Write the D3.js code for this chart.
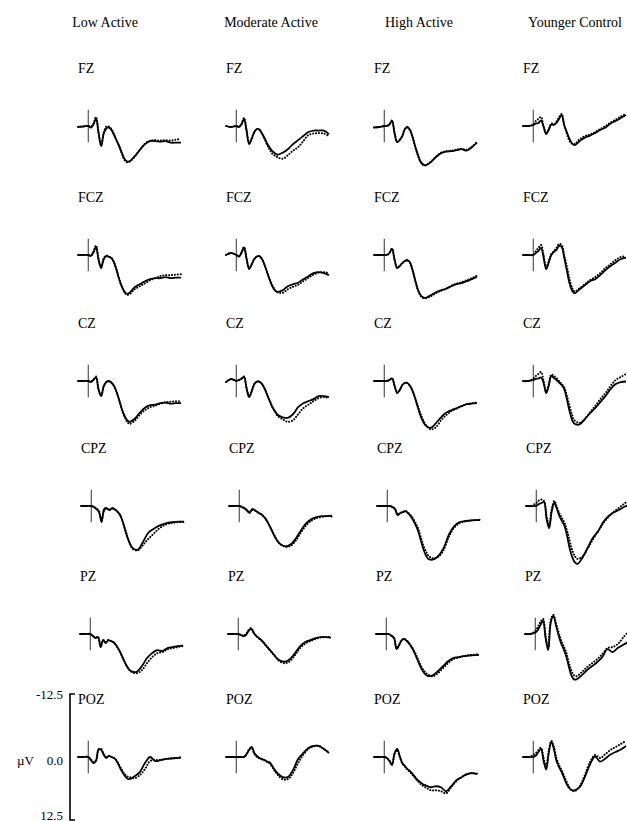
<!DOCTYPE html>
<html><head><meta charset="utf-8">
<script src="https://cdn.jsdelivr.net/npm/d3@7"></script>
<style>
body{margin:0;background:#fff}
svg{display:block}
text{font-family:"Liberation Serif","Times New Roman",serif;fill:#000}
</style>
</head><body><svg id="chart" width="627" height="821"></svg>
<script>
// Grand-average ERP waveforms (µV, negative up) by electrode and group.
// Series A = solid line, series B = dotted line.
const groups = ["Low Active", "Moderate Active", "High Active", "Younger Control"];
const electrodes = ["FZ", "FCZ", "CZ", "CPZ", "PZ", "POZ"];
const times = [-100,-50,0,25,50,75,100,125,150,175,200,225,250,275,300,325,350,375,400,450,500,550,600,650,700,750,800,850,900];
const scaleTicks = [-12.5, 0, 12.5];
const scaleTickLabels = ["-12.5", "0.0", "12.5"];
const scaleUnit = "µV";

const FZ_LOW_A = [0.2,0.1,0,0.3,-0.3,-1.5,1.5,4.0,1.5,0.5,0.3,0.8,1.8,2.9,4.0,5.3,6.5,7.0,7.0,6.0,4.8,3.6,3.0,3.0,3.1,3.0,3.3,3.3,3.3];
const FZ_LOW_B = [0.2,0.1,0,0.2,-0.5,-1.8,1.2,3.8,1.3,0.1,0.1,0.6,1.6,2.8,4.0,5.4,6.7,7.2,7.1,6.1,4.7,3.5,2.9,2.8,2.9,2.8,2.9,2.7,2.6];
const FZ_MOD_A = [0,0.2,0,0.2,-0.3,-1.4,1.0,3.6,2.5,1.2,0.6,0.7,1.5,2.4,3.5,4.3,5.0,5.4,5.7,5.3,4.6,3.6,2.8,2.0,1.2,0.9,0.9,0.9,1.6];
const FZ_MOD_B = [0,0.2,0,0.2,-0.4,-1.6,0.8,3.4,2.4,1.2,0.6,0.8,1.6,2.6,3.8,4.7,5.5,5.9,6.2,6.5,5.8,4.9,4.2,3.0,1.8,1.5,1.4,1.5,2.0];
const FZ_HIGH_A = [0.3,0.2,0,0,-0.3,-1.0,1.5,3.2,2.8,2.0,0.6,0.2,0.8,2.2,4.0,5.6,7.0,7.6,7.8,7.2,6.2,5.4,5.1,5.0,4.8,4.6,4.9,4.2,3.3];
const FZ_HIGH_B = [0.3,0.2,0,0,-0.3,-1.1,1.4,3.1,2.7,1.9,0.6,0.3,0.9,2.3,4.2,5.8,7.1,7.7,7.8,7.1,6.1,5.3,5.0,4.9,4.7,4.5,4.7,4.1,3.2];
const FZ_YC_A = [0,0,-0.2,-0.5,-0.6,-1.1,0.2,1.6,0.8,-0.3,-0.2,-0.6,-1.4,-2.2,-0.2,1.2,2.5,3.4,3.8,3.0,2.3,1.9,1.4,0.8,0.3,-0.5,-1.0,-1.6,-2.2];
const FZ_YC_B = [0,0,-0.3,-1.0,-1.4,-1.8,0,1.3,0.6,-0.5,-0.4,-0.9,-1.8,-2.4,-0.2,1.5,2.9,3.5,3.6,2.6,2.0,1.7,1.2,0.6,0.0,-0.7,-1.3,-1.9,-2.4];

const FCZ_LOW_A = [0,0,0,0.2,-0.5,-1.6,1.0,2.6,0.8,0.2,0.4,0.6,1.5,3.0,4.8,6.2,7.2,7.7,7.5,6.4,5.8,5.2,4.8,4.6,4.6,4.4,4.6,4.5,4.5];
const FCZ_LOW_B = [0,0,0,0.1,-0.7,-1.9,0.8,2.4,0.6,0.1,0.3,0.6,1.5,3.0,4.8,6.3,7.4,7.9,7.8,6.8,6.2,5.6,5.0,4.6,4.2,4.0,4.0,3.9,3.8];
const FCZ_MOD_A = [0,-0.4,0,0.3,-0.4,-1.5,0.8,2.8,1.8,0.8,0.3,0.2,0.8,2.0,3.5,5.0,6.2,7.0,7.3,7.0,6.2,5.8,5.5,4.8,4.2,3.6,3.4,3.6,4.0];
const FCZ_MOD_B = [0,-0.4,0,0.2,-0.5,-1.6,0.7,2.7,1.8,0.8,0.3,0.3,0.9,2.0,3.4,4.8,6.0,6.9,7.4,7.5,6.8,6.3,5.9,5.2,4.5,3.9,3.5,3.4,3.6];
const FCZ_HIGH_A = [0,0,0,0,-0.4,-1.2,1.0,2.6,2.2,1.6,1.2,1.0,1.5,3.0,5.0,6.8,7.9,8.4,8.5,8.0,7.4,7.0,6.7,6.2,5.8,5.6,5.2,4.8,4.3];
const FCZ_HIGH_B = [0,0,0,0,-0.4,-1.3,0.9,2.5,2.1,1.6,1.2,1.1,1.6,3.1,5.1,6.9,8.0,8.5,8.6,8.2,7.6,7.1,6.7,6.1,5.7,5.4,5.0,4.6,4.1];
const FCZ_YC_A = [0,0,0,-0.4,-0.8,-1.4,0.5,2.8,1.5,0,-0.6,-1.0,-1.8,-1.6,0.5,3.0,5.5,7.0,7.6,6.8,6.0,5.2,4.8,4.0,3.0,2.2,1.5,0.8,0.5];
const FCZ_YC_B = [0,0,0,-0.8,-1.4,-2.0,0,2.5,1.2,-0.2,-0.8,-1.4,-2.2,-2.0,0,2.2,4.6,6.4,7.2,6.6,5.8,5.0,4.4,3.6,2.6,1.8,1.0,0.4,0.3];

const CZ_LOW_A = [0,0,0,0.2,-0.2,-0.7,1.8,3.0,1.0,0.2,0,0.3,1.0,2.2,3.8,5.5,6.8,7.7,8.1,7.5,6.3,5.3,4.8,4.7,4.4,4.3,4.5,4.4,4.4];
const CZ_LOW_B = [0,0,0,0.1,-0.3,-0.9,1.6,2.9,1.0,0.2,0.1,0.4,1.0,2.2,3.8,5.6,7.0,8.0,8.5,7.9,6.7,5.8,5.2,4.9,4.5,4.2,4.1,4.0,4.0];
const CZ_MOD_A = [0.2,-0.4,0,-0.2,-0.4,-0.8,1.5,3.2,2.0,0.6,0.1,0.1,0.6,1.5,2.8,4.0,5.2,6.0,6.7,7.2,7.3,6.6,5.2,4.4,4.0,3.6,3.0,3.0,3.2];
const CZ_MOD_B = [0.2,-0.4,0,-0.2,-0.5,-0.9,1.4,3.1,2.0,0.6,0.2,0.2,0.6,1.5,2.7,3.9,5.1,6.0,6.9,7.6,8.1,7.8,6.6,5.4,4.7,4.0,3.4,3.2,3.4];
const CZ_HIGH_A = [0,0,0,0,-0.2,-0.5,1.0,2.4,1.8,0.8,0.4,0.4,1.0,2.0,3.5,5.2,6.8,8.0,8.8,9.3,8.4,7.2,6.3,5.8,5.4,5.0,4.6,4.5,4.4];
const CZ_HIGH_B = [0,0,0,0,-0.2,-0.6,0.9,2.3,1.8,0.8,0.4,0.4,1.0,1.9,3.3,4.9,6.4,7.6,8.6,9.6,9.2,7.8,6.8,6.0,5.5,5.0,4.6,4.4,4.3];
const CZ_YC_A = [0,0,-0.2,-0.4,-0.5,-0.7,0.4,2.4,1.0,-1.0,-0.6,-0.2,0.3,0.8,1.6,3.5,5.8,7.6,8.5,8.6,7.6,6.4,5.4,4.2,3.0,1.6,0.6,0.2,0.1];
const CZ_YC_B = [0,0,-0.5,-1.0,-1.4,-1.8,0,2.1,0.6,-1.3,-1.0,-0.6,0,0.6,1.2,2.8,4.8,6.6,7.8,8.3,7.5,6.2,5.0,3.6,2.4,1.0,-0.2,-0.8,-1.4];

const CPZ_LOW_A = [0,0,0,0.2,0.6,1.2,3.2,0.6,0.4,0.8,0.4,0.6,1.0,1.6,2.8,4.5,6.2,7.5,8.3,8.7,7.2,5.4,4.6,4.0,3.6,3.3,3.2,3.1,3.1];
const CPZ_LOW_B = [0,0,0,0.2,0.5,1.0,2.8,1.0,0.5,0.8,0.5,0.7,1.1,1.7,2.8,4.4,6.0,7.4,8.5,8.8,7.8,6.6,5.6,4.6,3.9,3.5,3.3,3.2,3.2];
const CPZ_MOD_A = [0,0,0,0.2,0.4,0.8,1.4,0.6,0.8,1.2,1.5,1.8,2.4,3.2,4.2,5.3,6.3,7.1,7.6,8.0,7.6,6.4,4.8,3.4,2.6,2.2,2.0,2.0,1.9];
const CPZ_MOD_B = [0,0,0,0.2,0.5,1.0,1.2,0.8,0.9,1.2,1.5,1.9,2.4,3.2,4.2,5.2,6.2,7.0,7.6,8.1,7.9,6.8,5.2,3.8,2.9,2.4,2.2,2.0,2.1];
const CPZ_HIGH_A = [0,0,0,0,0.2,0.6,1.8,1.4,1.2,1.0,1.4,2.0,2.8,3.8,5.0,6.8,8.5,9.8,10.5,10.6,9.8,8.2,5.6,4.0,3.2,3.0,2.9,2.8,2.8];
const CPZ_HIGH_B = [0,0,0,0,0.2,0.6,1.7,1.4,1.2,1.0,1.3,1.8,2.5,3.4,4.5,6.2,7.8,9.0,9.9,10.4,10.0,8.6,6.0,4.3,3.4,3.1,2.9,2.8,2.7];
const CPZ_YC_A = [0,0,0,-0.4,-0.6,-0.8,2.6,4.4,1.0,-0.6,0.6,2.0,3.0,4.0,6.0,8.5,10.2,11.2,11.5,10.2,8.2,6.3,5.0,3.2,2.0,1.3,0.8,0.2,-0.2];
const CPZ_YC_B = [0,0,-0.6,-1.1,-1.3,-1.0,2.0,3.8,0.6,-1.0,0.2,1.5,2.4,3.4,5.0,7.0,8.8,10.0,10.5,10.0,8.4,6.6,5.0,3.4,2.2,1.2,0.4,-0.4,-1.2];

const PZ_LOW_A = [0,0,0,0.4,0.8,0.6,2.6,1.2,1.8,1.2,1.4,1.6,2.2,3.0,4.0,5.2,6.2,7.0,7.4,7.5,6.4,4.8,3.8,3.2,3.4,2.8,2.6,2.4,2.3];
const PZ_LOW_B = [0,0,0,0.3,0.7,0.6,2.3,1.2,1.6,1.2,1.4,1.7,2.3,3.1,4.1,5.2,6.2,7.0,7.5,7.8,7.2,5.8,4.6,3.8,3.6,3.0,2.8,2.6,2.4];
const PZ_MOD_A = [0,0,0,0.2,0.4,0.2,-0.6,-1.0,-0.2,0.4,0.8,1.2,1.8,2.4,3.0,3.6,4.2,4.8,5.2,5.5,5.0,3.8,2.4,1.6,1.2,0.8,0.6,0.6,0.7];
const PZ_MOD_B = [0,0,0,0.2,0.3,0,-0.8,-1.2,-0.3,0.4,0.9,1.3,1.9,2.5,3.1,3.7,4.3,4.9,5.4,5.8,5.4,4.2,2.8,1.9,1.4,1.0,0.7,0.6,0.6];
const PZ_HIGH_A = [0,0,0,0,0.4,0.8,3.0,2.2,1.2,1.0,1.4,2.0,2.8,3.8,5.0,6.2,7.2,7.9,8.3,8.2,7.4,6.4,5.4,4.8,4.6,4.4,4.3,4.2,4.2];
const PZ_HIGH_B = [0,0,0,0,0.3,0.7,2.8,2.1,1.2,1.0,1.3,1.9,2.6,3.5,4.6,5.8,6.8,7.5,8.0,8.4,7.8,6.8,5.8,5.0,4.7,4.4,4.2,4.1,4.0];
const PZ_YC_A = [0,0,-0.3,-0.8,-1.8,-2.6,0.8,3.2,-2.2,-3.6,-1.8,0.2,1.8,3.0,4.4,6.4,8.2,9.0,9.0,8.2,7.2,6.4,5.6,4.6,3.0,3.6,2.8,2.2,1.6];
const PZ_YC_B = [0,0,-0.6,-1.4,-2.4,-3.0,0.4,2.8,-2.8,-3.8,-2.2,-0.4,1.2,2.4,3.6,5.6,7.2,8.2,8.4,7.6,6.6,5.8,5.0,4.0,2.8,2.6,2.0,0.8,-0.4];

const POZ_LOW_A = [0,0,0,0.6,1.2,0.8,-1.6,-1.4,-0.4,0.2,-0.2,0,0.2,0.8,1.8,2.8,3.6,4.2,4.4,3.8,3.0,1.2,0,0.8,0.6,0.4,0.3,0.2,0.1];
const POZ_LOW_B = [0,0,0,0.5,1.0,0.6,-1.4,-1.6,-0.6,0,-0.2,0,0.2,0.7,1.6,2.5,3.3,3.8,4.0,4.2,3.6,2.4,0.8,0.6,0.6,0.4,0.3,0.2,0.1];
const POZ_MOD_A = [0,0,0,0,0,0,-0.6,-1.4,-2.0,-0.8,-0.2,0.2,0.4,0.6,0.9,1.1,1.8,2.6,3.2,4.0,4.0,2.6,0.4,-0.8,-1.8,-2.2,-2.2,-1.6,-0.8];
const POZ_MOD_B = [0,0,0,0,0,0,-0.5,-1.6,-1.8,-0.6,0,0.3,0.5,0.7,1.0,1.3,2.0,2.8,3.5,4.4,4.4,3.2,1.2,-0.4,-1.6,-2.1,-2.2,-1.6,-0.9];
const POZ_HIGH_A = [0,0,0,0.2,0.8,1.6,-0.8,-1.6,-0.2,1.2,1.8,2.4,2.8,3.4,4.0,4.6,5.0,5.4,5.6,6.0,5.8,6.0,6.8,5.8,4.6,4.0,3.4,3.2,3.4];
const POZ_HIGH_B = [0,0,0,0.2,0.7,1.4,-0.6,-1.4,0,1.3,1.9,2.5,3.0,3.6,4.2,4.8,5.3,5.7,6.0,6.6,6.6,6.8,7.2,6.0,4.8,4.0,3.5,3.2,3.3];
const POZ_YC_A = [0,0,0,-0.3,-1.0,-1.6,0.8,2.5,-0.8,-3.0,-1.6,0.8,2.0,3.0,4.2,5.4,6.2,6.6,6.6,6.0,4.0,1.5,-0.1,0.9,0.3,-0.5,-1.0,-1.5,-2.2];
const POZ_YC_B = [0,0,-0.4,-0.8,-1.4,-1.8,0.2,1.8,-1.2,-3.2,-2.0,0.2,1.6,2.6,3.8,5.0,6.0,6.6,6.8,5.8,3.6,1.0,-0.4,0.2,-0.6,-1.4,-2.0,-2.6,-3.2];

// rows = electrodes, columns = groups, each cell = [solid, dotted]
const waves = [
  [[FZ_LOW_A, FZ_LOW_B], [FZ_MOD_A, FZ_MOD_B], [FZ_HIGH_A, FZ_HIGH_B], [FZ_YC_A, FZ_YC_B]],
  [[FCZ_LOW_A, FCZ_LOW_B], [FCZ_MOD_A, FCZ_MOD_B], [FCZ_HIGH_A, FCZ_HIGH_B], [FCZ_YC_A, FCZ_YC_B]],
  [[CZ_LOW_A, CZ_LOW_B], [CZ_MOD_A, CZ_MOD_B], [CZ_HIGH_A, CZ_HIGH_B], [CZ_YC_A, CZ_YC_B]],
  [[CPZ_LOW_A, CPZ_LOW_B], [CPZ_MOD_A, CPZ_MOD_B], [CPZ_HIGH_A, CPZ_HIGH_B], [CPZ_YC_A, CPZ_YC_B]],
  [[PZ_LOW_A, PZ_LOW_B], [PZ_MOD_A, PZ_MOD_B], [PZ_HIGH_A, PZ_HIGH_B], [PZ_YC_A, PZ_YC_B]],
  [[POZ_LOW_A, POZ_LOW_B], [POZ_MOD_A, POZ_MOD_B], [POZ_HIGH_A, POZ_HIGH_B], [POZ_YC_A, POZ_YC_B]]
];

// ---- layout ----
const colLeft = [78, 226, 374, 523];
const rowShift = [0, 0, 0, 3, 2, 0];
const rowZero = [126, 255, 381, 506, 634, 757];
const headerX = [105, 271, 419, 575];
const panelW = 103, halfH = 63;

const svg = d3.select("#chart");

const x = d3.scaleLinear().domain([-100, 900]).range([0, panelW]);
const y = d3.scaleLinear().domain([-12.5, 12.5]).range([-halfH, halfH]);

const line = d3.line()
  .x((d, i) => x(times[i]))
  .y(d => y(d))
  .curve(d3.curveCatmullRom.alpha(0.5));

// group headers
svg.selectAll("text.header").data(groups).join("text")
  .attr("class", "header")
  .attr("x", (d, i) => headerX[i])
  .attr("y", 22)
  .attr("text-anchor", "middle")
  .attr("dominant-baseline", "central")
  .style("font-size", "14px")
  .text(d => d);

electrodes.forEach((el, r) => {
  groups.forEach((g, c) => {
    const panel = svg.append("g")
      .attr("transform", `translate(${colLeft[c] + rowShift[r]},${rowZero[r]})`);

    panel.append("text")
      .attr("x", 0)
      .attr("y", -58)
      .attr("dominant-baseline", "central")
      .style("font-size", "14px")
      .text(el);

    // stimulus onset marker
    panel.append("line")
      .attr("x1", x(0)).attr("x2", x(0))
      .attr("y1", y(-3.2)).attr("y2", y(3.2))
      .attr("stroke", "#555").attr("stroke-width", 1.2);

    const [solid, dotted] = waves[r][c];
    panel.append("path")
      .attr("d", line(dotted))
      .attr("fill", "none")
      .attr("stroke", "#000")
      .attr("stroke-width", 2)
      .attr("stroke-linecap", "round")
      .attr("stroke-dasharray", "0.1,2.8");
    panel.append("path")
      .attr("d", line(solid))
      .attr("fill", "none")
      .attr("stroke", "#000")
      .attr("stroke-width", 1.8)
      .attr("stroke-linejoin", "round");
  });
});

// amplitude scale bar beside the last row
const bar = svg.append("g").attr("transform", `translate(70,${rowZero[5]})`);
bar.append("path")
  .attr("d", `M5,${y(-12.5)}H0V${y(12.5)}H5`)
  .attr("fill", "none").attr("stroke", "#000").attr("stroke-width", 1.6);
// tick label offsets keep the bottom label inside the frame
const tickDy = [0, 3, -5];
bar.selectAll("text.tick").data(scaleTicks).join("text")
  .attr("class", "tick")
  .attr("x", -7)
  .attr("y", (d, i) => y(d) + tickDy[i])
  .attr("text-anchor", "end")
  .attr("dominant-baseline", "central")
  .style("font-size", "13px")
  .text((d, i) => scaleTickLabels[i]);
bar.append("text")
  .attr("x", -53).attr("y", y(0) + 3)
  .attr("dominant-baseline", "central")
  .style("font-size", "13px")
  .text(scaleUnit);
</script>
</body></html>
